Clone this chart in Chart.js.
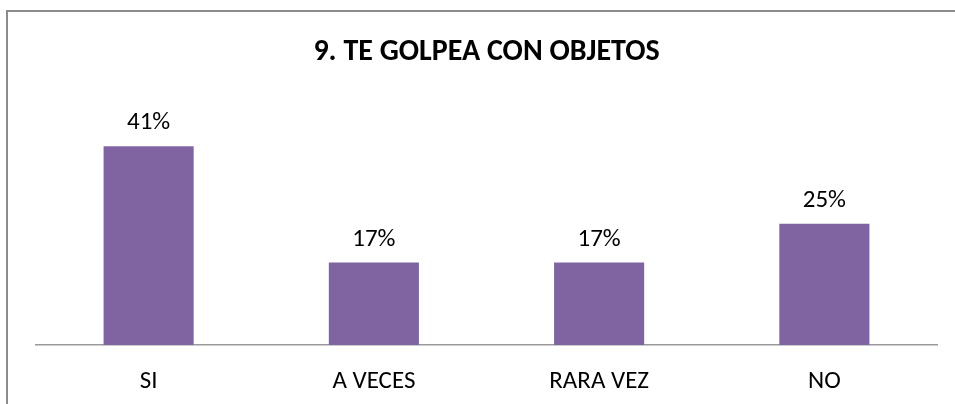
<!DOCTYPE html>
<html>
<head>
<meta charset="utf-8">
<script src="https://cdn.jsdelivr.net/npm/chart.js@4.4.0/dist/chart.umd.min.js"></script>
<style>
    html, body { margin: 0; padding: 0; background: #fff; overflow: hidden; }
    #wrap { position: relative; width: 955px; height: 404px; }
    #frame {
        position: absolute; left: 6px; top: 10px;
        width: 1000px; height: 500px;
        border: 2px solid #8c8c8c;
    }
    canvas { position: absolute; left: 0; top: 0; }
</style>
</head>
<body>
<div id="wrap">
    <div id="frame"></div>
    <canvas id="chart" width="955" height="404"></canvas>
</div>
<script>
// datos del gráfico
const chartTitle = '9. TE GOLPEA CON OBJETOS';
const categories = ['SI', 'A VECES', 'RARA VEZ', 'NO'];
const values = [41, 17, 17, 25];
const barColor = '#8064A2';
const fontFamily = 'Carlito, Calibri, Lato, sans-serif';

// etiquetas de porcentaje encima de las barras
const valueLabels = {
    id: 'valueLabels',
    afterDatasetsDraw(chart) {
        const ctx = chart.ctx;
        const meta = chart.getDatasetMeta(0);
        ctx.save();
        ctx.font = '25px ' + fontFamily;
        ctx.fillStyle = '#000';
        ctx.textAlign = 'center';
        ctx.textBaseline = 'alphabetic';
        meta.data.forEach((bar, i) => {
            ctx.fillText(values[i] + '%', bar.x, bar.y - 17);
        });
        ctx.restore();
    }
};

new Chart(document.getElementById('chart'), {
    type: 'bar',
    data: {
        labels: categories,
        datasets: [{
            data: values,
            backgroundColor: barColor,
            borderWidth: 0,
            barPercentage: 0.4,
            categoryPercentage: 1
        }]
    },
    options: {
        responsive: false,
        animation: false,
        layout: {
            padding: { left: 36, right: 18, top: 0, bottom: -15 }
        },
        plugins: {
            legend: { display: false },
            tooltip: { enabled: false },
            title: {
                display: true,
                text: chartTitle,
                color: '#000',
                font: { family: fontFamily, size: 30, weight: 'bold' },
                padding: { top: 34, bottom: 32.5 }
            }
        },
        scales: {
            x: {
                grid: { display: false, drawTicks: false },
                border: { display: true, color: '#9a9a9a', width: 1.5 },
                ticks: {
                    color: '#000',
                    padding: 22,
                    font: { family: fontFamily, size: 25 }
                }
            },
            y: {
                display: false,
                min: 0,
                max: 50
            }
        }
    },
    plugins: [valueLabels]
});
</script>
</body>
</html>
